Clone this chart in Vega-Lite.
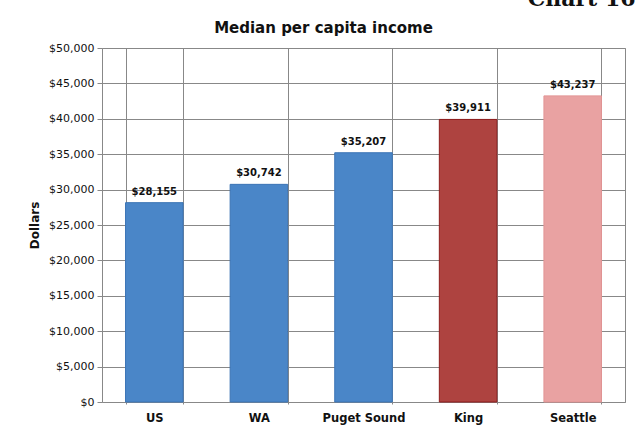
{
  "$schema": "https://vega.github.io/schema/vega-lite/v6.json",
  "width": 523,
  "height": 354,
  "autosize": "none",
  "padding": {"left": 102, "top": 48, "right": 14, "bottom": 27},
  "background": "white",
  "data": {
    "values": [
      {"place": "US", "income": 28155},
      {"place": "WA", "income": 30742},
      {"place": "Puget Sound", "income": 35207},
      {"place": "King", "income": 39911},
      {"place": "Seattle", "income": 43237}
    ]
  },
  "config": {
    "view": {"stroke": "#888888", "strokeWidth": 1},
    "axis": {"labelFont": "DejaVu Sans", "titleFont": "DejaVu Sans", "labelColor": "#111111", "titleColor": "#111111"}
  },
  "layer": [
    {
      "mark": {"type": "bar", "strokeWidth": 1},
      "encoding": {
        "x": {
          "field": "place",
          "type": "nominal",
          "sort": null,
          "scale": {"paddingInner": 0.45, "paddingOuter": 0.225},
          "axis": {
            "title": null,
            "labelAngle": 0,
            "labelFontSize": 11.5,
            "labelFontWeight": "bold",
            "labelPadding": 8,
            "tickBand": "extent",
            "grid": true,
            "gridColor": "#888888",
            "gridWidth": 1,
            "gridOpacity": 1,
            "ticks": true,
            "tickSize": 2,
            "tickColor": "#888888",
            "domain": false
          }
        },
        "y": {
          "field": "income",
          "type": "quantitative",
          "scale": {"domain": [0, 50000]},
          "axis": {
            "title": "Dollars",
            "titleFontSize": 12,
            "titleFontWeight": "bold",
            "titlePadding": 7,
            "values": [0, 5000, 10000, 15000, 20000, 25000, 30000, 35000, 40000, 45000, 50000],
            "format": "$,.0f",
            "labelFontSize": 11,
            "labelOverlap": false,
            "labelPadding": 3,
            "tickSize": 5,
            "tickColor": "#888888",
            "gridColor": "#888888",
            "gridOpacity": 1,
            "domain": false
          }
        },
        "color": {
          "field": "place",
          "type": "nominal",
          "scale": {
            "domain": ["US", "WA", "Puget Sound", "King", "Seattle"],
            "range": ["#4a86c8", "#4a86c8", "#4a86c8", "#ae4340", "#e9a2a2"]
          },
          "legend": null
        },
        "stroke": {
          "field": "place",
          "type": "nominal",
          "scale": {
            "domain": ["US", "WA", "Puget Sound", "King", "Seattle"],
            "range": ["#3b74b5", "#3b74b5", "#3b74b5", "#8e1c1c", "#e29494"]
          },
          "legend": null
        }
      }
    },
    {
      "mark": {"type": "text", "baseline": "alphabetic", "dy": -8, "font": "DejaVu Sans", "fontSize": 10, "fontWeight": "bold", "color": "#111111"},
      "encoding": {
        "x": {
          "field": "place",
          "type": "nominal",
          "sort": null,
          "axis": {
            "orient": "top",
            "title": "Median per capita income",
            "titleFont": "DejaVu Sans",
            "titleFontSize": 15,
            "titleFontWeight": "bold",
            "titleColor": "#111111",
            "titleAlign": "center",
            "titleAnchor": "middle",
            "titleBaseline": "alphabetic",
            "titleX": 221,
            "titleY": -16,
            "labels": false,
            "ticks": false,
            "domain": false,
            "grid": false
          }
        },
        "y": {
          "field": "income",
          "type": "quantitative",
          "axis": {
            "orient": "right",
            "title": "Chart 16",
            "titleFont": "DejaVu Serif",
            "titleFontSize": 22,
            "titleFontWeight": "bold",
            "titleColor": "#111111",
            "titleAngle": 0,
            "titleAlign": "right",
            "titleBaseline": "alphabetic",
            "titleX": 10,
            "titleY": -43,
            "labels": false,
            "ticks": false,
            "domain": false,
            "grid": false
          }
        },
        "text": {"field": "income", "type": "quantitative", "format": "$,.0f"}
      }
    }
  ],
  "resolve": {"axis": {"x": "independent", "y": "independent"}}
}
